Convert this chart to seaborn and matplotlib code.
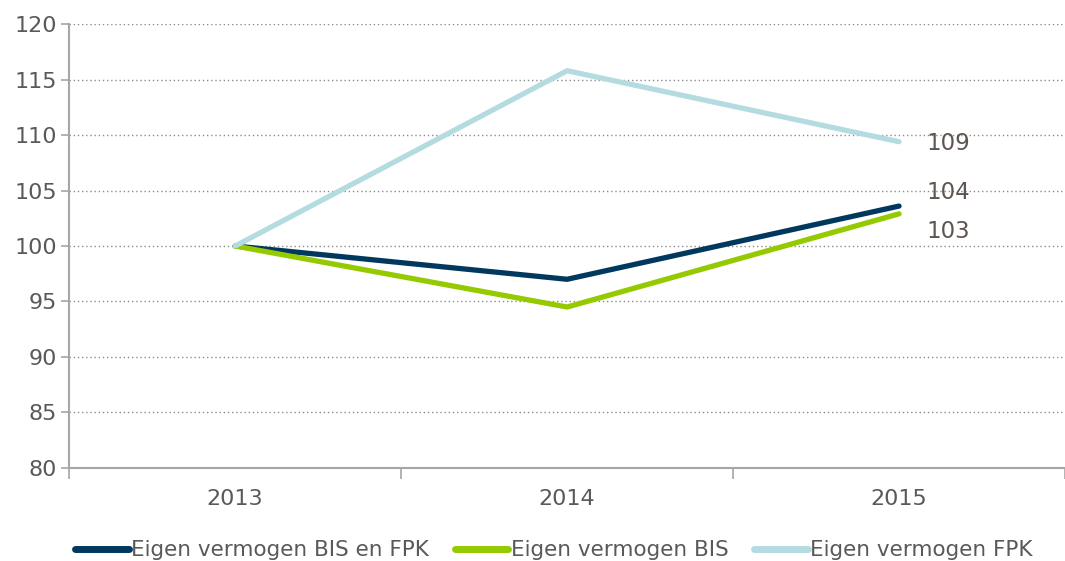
import pandas as pd
import numpy as np
import seaborn as sns
import matplotlib.pyplot as plt

# data (index, 2013 = 100)
years = ['2013', '2014', '2015']
bis_en_fpk = [100, 97.0, 103.6]
bis = [100, 94.5, 102.9]
fpk = [100, 115.8, 109.4]
end_labels = ['104', '103', '109']

series_names = ['Eigen vermogen BIS en FPK', 'Eigen vermogen BIS', 'Eigen vermogen FPK']
colors = ['#00395D', '#95C900', '#B4DCE0']

# build a long-form table for seaborn
df = pd.DataFrame({
    'jaar': years * 3,
    'pos': list(range(len(years))) * 3,
    'waarde': bis_en_fpk + bis + fpk,
    'reeks': [series_names[0]] * 3 + [series_names[1]] * 3 + [series_names[2]] * 3,
})

sns.set_style('white')
plt.rcParams['font.family'] = ['DejaVu Sans']

fig, ax = plt.subplots(figsize=(10.65, 5.61), dpi=100)
fig.subplots_adjust(left=0.065, right=1.0, top=0.957, bottom=0.166)

sns.lineplot(data=df, x='pos', y='waarde', hue='reeks', hue_order=series_names,
             palette=dict(zip(series_names, colors)), linewidth=3.8, ax=ax,
             legend=False, solid_capstyle='round')

# value labels at the last point (vertical nudges keep them apart)
nudges = [10, -13, -1]
for vals, lab, dy in zip([bis_en_fpk, bis, fpk], end_labels, nudges):
    ax.annotate(lab, xy=(len(years) - 1, vals[-1]), xytext=(20, dy),
                textcoords='offset points', va='center', ha='left',
                fontsize=16.5, color='#5E5551')

# axes
ax.set_ylim(80, 120)
ax.set_yticks(np.arange(80, 121, 5))
ax.set_xlim(-0.5, 2.49)
ax.set_xticks(range(len(years)))
ax.set_xticklabels(years)
ax.set_xticks(np.arange(-0.5, 2.6, 1), minor=True)
ax.tick_params(axis='x', which='major', bottom=False, length=0, pad=15,
               labelsize=16, colors='#595959')
ax.tick_params(axis='x', which='minor', bottom=True, length=8, color='#A6A6A6', width=1.2)
ax.tick_params(axis='y', left=True, length=6, width=1.2, labelsize=16,
               labelcolor='#595959', color='#A6A6A6', pad=3, direction='out')
ax.set_xlabel('')
ax.set_ylabel('')

ax.grid(axis='y', linestyle=(0, (1, 2)), color='#8C8C8C', linewidth=1)
ax.set_axisbelow(True)
for side in ['top', 'right']:
    ax.spines[side].set_visible(False)
for side in ['left', 'bottom']:
    ax.spines[side].set_color('#A6A6A6')
    ax.spines[side].set_linewidth(1.5)

# legend at the bottom
handles = [plt.Line2D([], [], color=c, linewidth=5, solid_capstyle='round') for c in colors]
fig.legend(handles, series_names, loc='lower center', bbox_to_anchor=(0.52, -0.033),
           ncol=3, frameon=False, fontsize=15.5, handlelength=2.5, handletextpad=0.1,
           columnspacing=1.2, labelcolor='#595959')

plt.savefig('out.png', dpi=100)
